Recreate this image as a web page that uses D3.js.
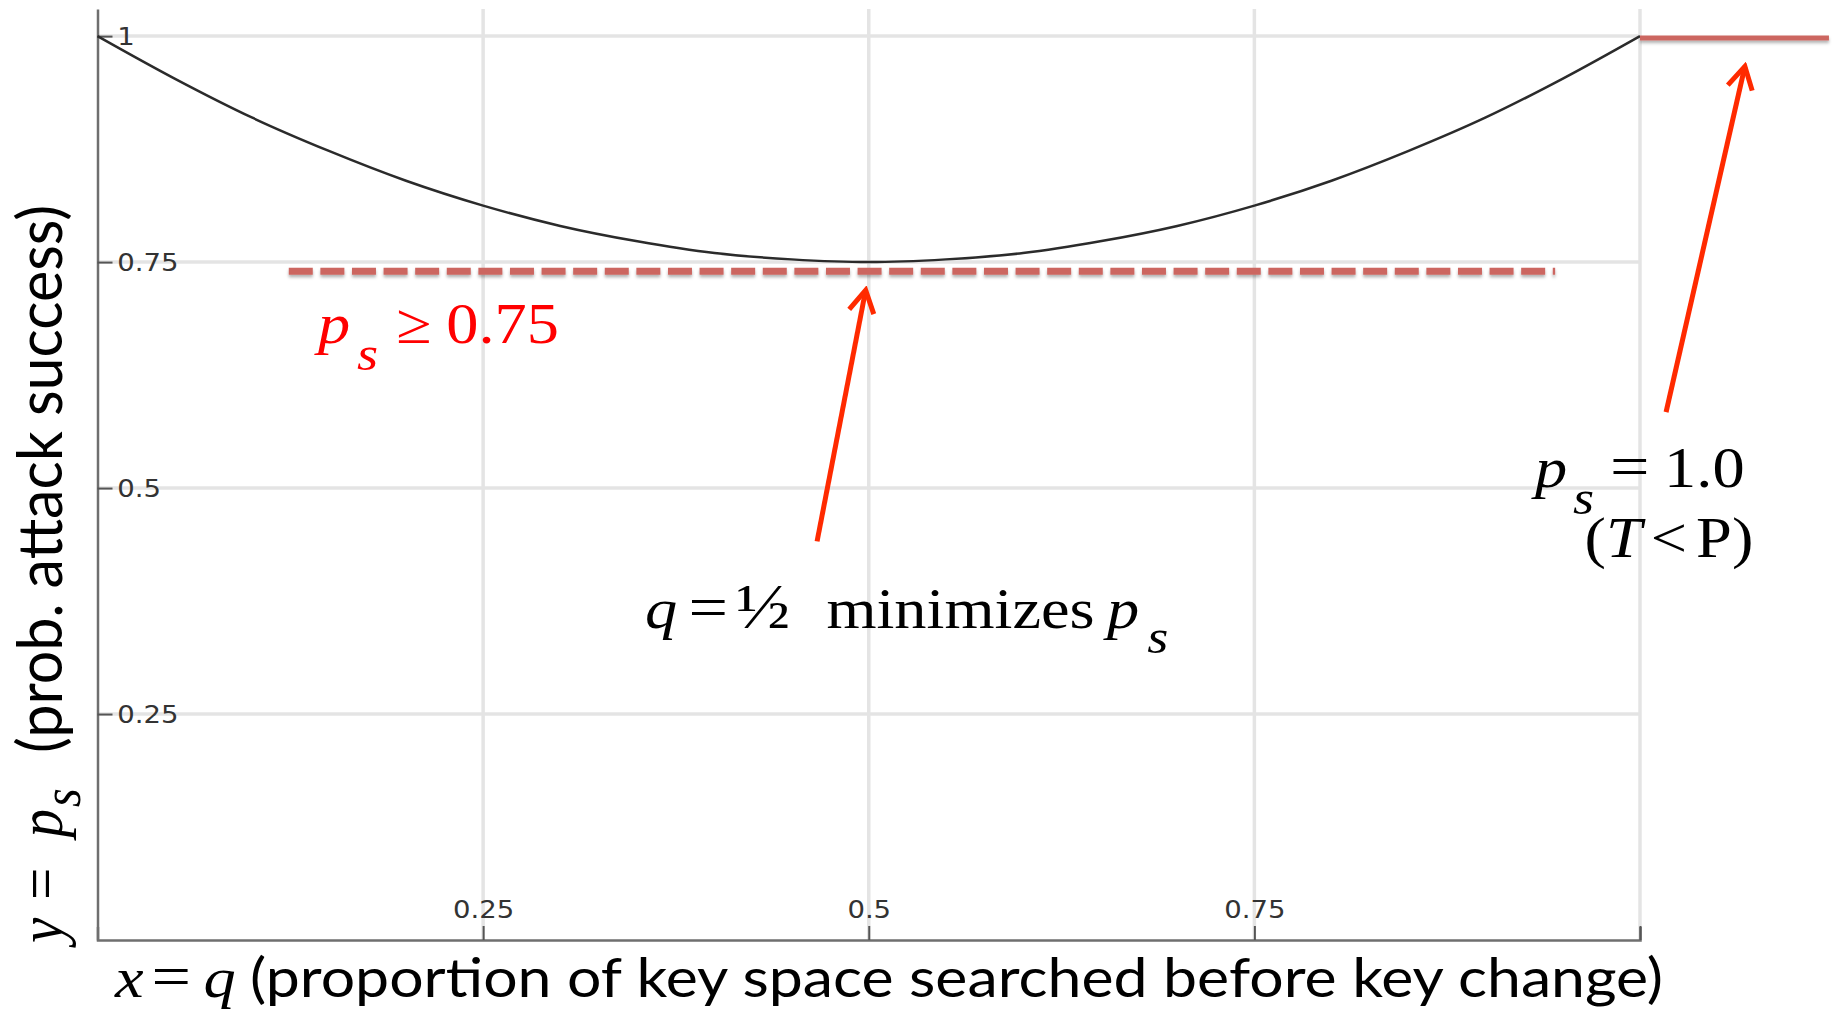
<!DOCTYPE html>
<html>
<head>
<meta charset="utf-8">
<script src="https://cdn.jsdelivr.net/npm/d3@7"></script>
<style>
  html, body { margin: 0; padding: 0; background: #fff; }
  svg { display: block; }
</style>
</head>
<body>
<div id="chart"></div>
<script>
// p_s as a function of q
const qValues  = [0, 0.05, 0.1, 0.15, 0.2, 0.25, 0.3, 0.35, 0.4, 0.45, 0.5, 0.55, 0.6, 0.65, 0.7, 0.75, 0.8, 0.85, 0.9, 0.95, 1];
const psValues = [1, 0.953, 0.91, 0.873, 0.84, 0.8125, 0.79, 0.773, 0.76, 0.753, 0.75, 0.753, 0.76, 0.773, 0.79, 0.8125, 0.84, 0.873, 0.91, 0.953, 1];

const xTicks = [0.25, 0.5, 0.75, 1];
const xTickLabels = ["0.25", "0.5", "0.75", ""];
const yTicks = [0.25, 0.5, 0.75, 1];
const yTickLabels = ["0.25", "0.5", "0.75", "1"];

// red reference lines (q extent, p_s level)
const lowerBoundQ = [0.124, 0.945];
const lowerBoundPs = 0.74;
const upperLineQ = [1, 1.1225];
const upperLinePs = 0.998;

// annotation arrows: tail -> tip, in (q, p_s)
const arrowTails = [[0.4665, 0.441], [1.0169, 0.584]];
const arrowTips  = [[0.498, 0.719], [1.068, 0.9665]];

// annotation anchors, in (q, p_s)
const boundNoteAt = [0.143, 0.660];
const minNoteAt = [0.355, 0.345];
const maxNoteAt = [0.932, 0.501];
const maxNote2At = [0.964, 0.4235];

const W = 1836, H = 1013;
const serif = '"Liberation Serif", "Times New Roman", serif';
const sans = 'Lato, "Open Sans", sans-serif';
const tickFont = '"DejaVu Sans", sans-serif';
const stretch = 1.13;   // the slide text is drawn a little wide
const sz = 57, sub = 48, eq = 62;

const svg = d3.select("#chart").append("svg")
    .attr("width", W)
    .attr("height", H)

const defs = svg.append("defs")
const shadow = defs.append("filter")
    .attr("id", "shadow")
    .attr("filterUnits", "userSpaceOnUse")
    .attr("x", 0).attr("y", 0)
    .attr("width", W).attr("height", H)
shadow.append("feDropShadow")
    .attr("dx", 0).attr("dy", 2.5)
    .attr("stdDeviation", 1.5)
    .attr("flood-color", "#000")
    .attr("flood-opacity", 0.3)

defs.append("marker")
    .attr("id", "head")
    .attr("markerUnits", "userSpaceOnUse")
    .attr("viewBox", "-26 -16 30 32")
    .attr("markerWidth", 30).attr("markerHeight", 32)
    .attr("refX", 0).attr("refY", 0)
    .attr("orient", "auto")
  .append("path")
    .attr("d", "M-22,-12.5L0,0L-22,12.5")
    .attr("fill", "none")
    .attr("stroke", "#ff2a00")
    .attr("stroke-width", 5)

const x = d3.scaleLinear().domain([0, 1]).range([97.5, 1640])
const y = d3.scaleLinear().domain([0, 1.03]).range([940, 9])

// grid
svg.append("g").selectAll("line")
    .data(xTicks).enter()
    .append("line")
    .attr("x1", d => x(d)).attr("x2", d => x(d))
    .attr("y1", y(1.03)).attr("y2", y(0))
    .attr("stroke", "#e4e4e4")
    .attr("stroke-width", 3.5)
svg.append("g").selectAll("line")
    .data(yTicks).enter()
    .append("line")
    .attr("x1", x(0)).attr("x2", x(1))
    .attr("y1", d => y(d)).attr("y2", d => y(d))
    .attr("stroke", "#e4e4e4")
    .attr("stroke-width", 3.5)

// axes
const yAxis = svg.append("g")
    .attr("transform", `translate(${x(0)},0)`)
    .call(d3.axisRight(y)
        .tickValues(yTicks)
        .tickSize(15)
        .tickSizeOuter(0)
        .tickPadding(3)
        .tickFormat((d, i) => yTickLabels[i]))
const xAxis = svg.append("g")
    .attr("transform", `translate(0,${y(0)})`)
    .call(d3.axisTop(x)
        .tickValues(xTicks)
        .tickSize(14)
        .tickSizeOuter(13)
        .tickPadding(8)
        .tickFormat((d, i) => xTickLabels[i]))

;[xAxis, yAxis].forEach(a => {
    a.select(".domain").attr("stroke", "#6f6f6f").attr("stroke-width", 2.5)
    a.selectAll(".tick line").attr("stroke", "#555").attr("stroke-width", 2)
    a.selectAll(".tick text")
        .attr("font-family", tickFont)
        .attr("font-size", 25)
        .attr("fill", "#333")
        .attr("transform", "scale(1.1,1)")
})

// curve
const curvePts = qValues.map((q, i) => ({q: q, p: psValues[i]}))
svg.append("path")
    .datum(curvePts)
    .attr("fill", "none")
    .attr("stroke", "#2b2b2b")
    .attr("stroke-width", 2.5)
    .attr("d", d3.line()
        .x(d => x(d.q))
        .y(d => y(d.p))
        .curve(d3.curveMonotoneX))

// red reference lines
svg.append("line")
    .attr("x1", x(lowerBoundQ[0])).attr("x2", x(lowerBoundQ[1]))
    .attr("y1", y(lowerBoundPs)).attr("y2", y(lowerBoundPs))
    .attr("stroke", "#cc6660")
    .attr("stroke-width", 7)
    .attr("stroke-dasharray", "24 7.6")
    .attr("filter", "url(#shadow)")
svg.append("line")
    .attr("x1", x(upperLineQ[0])).attr("x2", x(upperLineQ[1]))
    .attr("y1", y(upperLinePs)).attr("y2", y(upperLinePs))
    .attr("stroke", "#cc6660")
    .attr("stroke-width", 5)
    .attr("filter", "url(#shadow)")

// arrows
svg.append("g").selectAll("line")
    .data(arrowTails).enter()
    .append("line")
    .attr("x1", d => x(d[0])).attr("y1", d => y(d[1]))
    .attr("x2", (d, i) => x(arrowTips[i][0]))
    .attr("y2", (d, i) => y(arrowTips[i][1]))
    .attr("stroke", "#ff2a00")
    .attr("stroke-width", 5)
    .attr("marker-end", "url(#head)")

// annotations
function note(at, color){
    return svg.append("g")
        .attr("transform", `translate(${x(at[0])},${y(at[1])}) scale(${stretch},1)`)
      .append("text")
        .attr("font-family", serif)
        .attr("font-size", sz)
        .attr("fill", color)
}

const t1 = note(boundNoteAt, "#ff0000")
t1.append("tspan").attr("font-style", "italic").text("p")
t1.append("tspan").attr("font-style", "italic").attr("font-size", sub)
    .attr("dx", 6).attr("dy", 27).text("s")
t1.append("tspan").attr("dx", 16).attr("dy", -27).text("≥")
t1.append("tspan").attr("dx", 13).text("0.75")

const t2 = note(minNoteAt, "#000")
t2.append("tspan").attr("font-style", "italic").text("q")
t2.append("tspan").attr("dx", 10).attr("font-size", eq).text("=")
t2.append("tspan").attr("dx", 7).attr("font-size", 64).text("½")
t2.append("tspan").attr("dx", 32).text("minimizes")
t2.append("tspan").attr("dx", 11).attr("font-style", "italic").text("p")
t2.append("tspan").attr("font-style", "italic").attr("font-size", sub)
    .attr("dx", 7).attr("dy", 25).text("s")

const t3 = note(maxNoteAt, "#000")
t3.append("tspan").attr("font-style", "italic").text("p")
t3.append("tspan").attr("font-style", "italic").attr("font-size", sub)
    .attr("dx", 5).attr("dy", 27).text("s")
t3.append("tspan").attr("dx", 14).attr("dy", -27).attr("font-size", eq).text("=")
t3.append("tspan").attr("dx", 13).text("1.0")

const t4 = note(maxNote2At, "#000")
t4.append("tspan").text("(")
t4.append("tspan").attr("font-style", "italic").text("T")
t4.append("tspan").attr("dx", 8).text("<")
t4.append("tspan").attr("dx", 8).text("P)")

// x axis title
const xl = svg.append("g")
    .attr("transform", `translate(115,997) scale(${stretch},1)`)
  .append("text")
    .attr("font-family", serif).attr("font-size", sz)
    .attr("fill", "#000")
xl.append("tspan").attr("font-style", "italic").text("x")
xl.append("tspan").attr("dx", 7).attr("font-size", eq).text("=")
xl.append("tspan").attr("dx", 11).attr("font-style", "italic").text("q")
svg.append("text")
    .attr("x", 250).attr("y", 997)
    .attr("font-family", sans).attr("font-size", 54)
    .attr("textLength", 1413)
    .attr("lengthAdjust", "spacingAndGlyphs")
    .attr("fill", "#000")
    .text("(proportion of key space searched before key change)")

// y axis title
const yl = svg.append("g")
    .attr("transform", `translate(62,943) rotate(-90) scale(1,${stretch})`)
const ylm = yl.append("text")
    .attr("x", 0).attr("y", 0)
    .attr("font-family", serif).attr("font-size", sz)
    .attr("fill", "#000")
ylm.append("tspan").attr("font-style", "italic").text("y")
ylm.append("tspan").attr("dx", 18).text("=")
ylm.append("tspan").attr("dx", 30).attr("font-style", "italic").text("p")
ylm.append("tspan").attr("font-style", "italic").attr("font-size", sub)
    .attr("dx", 2).attr("dy", 16).text("s")
yl.append("text")
    .attr("x", 190).attr("y", 0)
    .attr("font-family", sans).attr("font-size", 54)
    .attr("textLength", 548)
    .attr("lengthAdjust", "spacingAndGlyphs")
    .attr("fill", "#000")
    .text("(prob. attack success)")
</script>
</body>
</html>
